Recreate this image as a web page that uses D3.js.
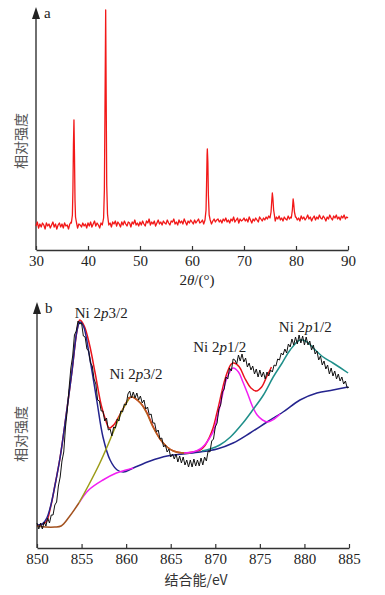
<!DOCTYPE html>
<html>
<head>
<meta charset="utf-8">
<script src="https://cdn.jsdelivr.net/npm/d3@7"></script>
<style>
  body { margin: 0; background: #fff; }
  svg { display: block; }
</style>
</head>
<body>
<div id="chart"></div>
<script>
// ---------- panel a : XRD ----------
const xrdStart = 30, xrdStep = 0.25;
const xrdBackground = [
  24, 28, 22, 26, 23, 27, 25, 21, 27, 24, 26, 22, 25, 28, 23, 26, 21, 25, 27, 23,
  26, 22, 27, 24, 25, 21, 26, 28, 23, 26, 24, 27, 22, 26, 25, 23, 27, 24, 26, 22,
  27, 24, 28, 23, 26, 29, 24, 27, 25, 22, 27, 25, 28, 24, 26, 29, 25, 27, 23, 28,
  26, 29, 24, 28, 26, 23, 28, 25, 29, 26, 24, 28, 27, 23, 28, 26, 30, 25, 27, 24,
  28, 25, 29, 26, 24, 29, 27, 31, 25, 28, 26, 29, 24, 27, 30, 26, 28, 25, 29, 27,
  26, 30, 27, 25, 29, 28, 31, 26, 28, 25, 30, 27, 29, 26, 31, 28, 25, 29, 27, 30,
  28, 26, 30, 27, 29, 31, 27, 28, 30, 26, 29, 27, 31, 28, 30, 26, 29, 31, 28, 30,
  31, 28, 30, 27, 31, 29, 32, 28, 30, 27, 31, 29, 33, 28, 30, 32, 27, 31, 29, 30,
  32, 29, 31, 28, 33, 30, 27, 31, 29, 32, 30, 28, 33, 31, 29, 32, 30, 33, 31, 34,
  32, 30, 33, 31, 29, 33, 31, 34, 30, 32, 29, 33, 31, 30, 34, 31, 33, 30, 32, 31,
  33, 30, 32, 29, 34, 31, 33, 30, 32, 35, 31, 33, 29, 32, 34, 30, 33, 31, 35, 32,
  31, 34, 32, 29, 33, 31, 35, 32, 30, 34, 32, 35, 31, 33, 30, 34, 32, 35, 31, 33,
  32
];
const xrdPeaks = [
  [[36.8, 27], [37.0, 35], [37.1, 60], [37.2, 105], [37.3, 130], [37.4, 95], [37.5, 50], [37.6, 33], [37.8, 27]],
  [[43.0, 32], [43.15, 60], [43.25, 130], [43.4, 240], [43.5, 150], [43.6, 65], [43.75, 36], [43.9, 29]],
  [[62.5, 30], [62.7, 40], [62.8, 65], [62.9, 95], [62.95, 101], [63.05, 88], [63.15, 55], [63.3, 35], [63.5, 30]],
  [[75.0, 32], [75.2, 38], [75.35, 50], [75.45, 57], [75.55, 52], [75.7, 40], [75.9, 33]],
  [[79.1, 32], [79.3, 40], [79.45, 51], [79.55, 47], [79.7, 38], [79.9, 33]]
];
const xrdTicks = [30, 40, 50, 60, 70, 80, 90];

// ---------- panel b : XPS Ni 2p ----------
const xpsStart = 850, xpsStep = 0.2;
const xpsRaw = [
  25, 19, 25, 19, 26, 22, 30, 25, 33, 33, 43, 46, 62, 71, 87, 96, 121, 138, 160, 180,
  192, 213, 217, 227, 224, 225, 212, 211, 199, 197, 185, 182, 169, 164, 148, 147, 137, 137, 127, 130,
  118, 119, 112, 121, 120, 129, 127, 137, 136, 144, 143, 154, 157, 150, 156, 150, 155, 148, 152, 145,
  148, 139, 141, 133, 134, 125, 125, 116, 118, 109, 110, 101, 103, 96, 99, 91, 94, 89, 94, 86,
  92, 85, 91, 83, 88, 81, 88, 81, 89, 82, 88, 82, 90, 83, 91, 87, 97, 96, 107, 109,
  121, 125, 139, 143, 156, 159, 171, 169, 180, 177, 189, 188, 184, 193, 187, 194, 186, 190, 181, 185,
  178, 182, 174, 179, 171, 178, 171, 176, 169, 176, 172, 178, 176, 183, 182, 189, 188, 195, 193, 199,
  195, 204, 201, 209, 203, 211, 204, 213, 205, 212, 203, 211, 203, 207, 198, 203, 194, 197, 188, 192,
  183, 187, 179, 183, 174, 180, 172, 177, 169, 174, 167, 171, 164, 167, 160, 161
];
const fitEnvelope = [
  [850, 22], [851, 26], [851.5, 40], [852, 62], [852.6, 91], [853.3, 135], [853.9, 175], [854.5, 218],
  [854.8, 228], [855.3, 222], [855.9, 203], [856.5, 176], [857.2, 143], [857.7, 128], [858.1, 120],
  [858.6, 123], [859.1, 130], [859.7, 140], [860.2, 148], [860.6, 151], [861.6, 145], [862.3, 136],
  [863, 122], [863.8, 109], [864.6, 101], [865.3, 97], [866.4, 95], [867.5, 96], [868.3, 98],
  [868.8, 102], [869.3, 110], [869.75, 120], [870.1, 132], [870.4, 143], [870.7, 155], [871, 166],
  [871.4, 177], [871.8, 184], [872.1, 185], [872.7, 181], [873.3, 170], [874, 160], [874.6, 157],
  [875.2, 161], [875.8, 172], [876.3, 181]
];
const fitMain2p3 = [
  [850, 23], [850.6, 24], [851.1, 30], [851.5, 41], [852, 62], [852.6, 91], [853.3, 135], [853.9, 175],
  [854.5, 218], [854.8, 226], [855.2, 222], [855.9, 191], [856.7, 148], [857.4, 111], [858.2, 88],
  [859, 78], [859.7, 76], [860.8, 80], [862.7, 87], [864.6, 92], [866.4, 94], [868.3, 96], [870.2, 99],
  [872, 105], [873.9, 115], [875.8, 126], [877.6, 136], [879.5, 148], [881.4, 155], [883.2, 158], [884.9, 161]
];
const fitBaseLow = [[850, 22], [851, 21], [852, 21], [852.7, 22], [853.6, 31], [854.7, 45]];
const fitBaseMid = [[854.7, 45], [855.8, 58], [857.4, 68], [858.9, 75], [860, 78], [860.8, 80]];
const fitSatRise = [[854.7, 45], [855.8, 63], [857, 84], [858, 104], [858.6, 117], [859.1, 128], [859.7, 140], [860.3, 149]];
const fitSatFall = [
  [860.2, 150], [860.7, 151], [861.6, 145], [862.3, 135], [863, 121], [863.8, 109],
  [864.6, 101], [865.3, 97], [866.4, 95], [867.2, 95]
];
const fitMain2p1 = [
  [866.5, 95], [867.5, 96], [868.3, 99], [868.8, 103], [869.3, 109], [869.85, 118], [870.2, 130],
  [870.5, 141], [870.8, 153], [871.15, 166], [871.5, 174], [872, 180], [872.6, 176], [873.1, 166],
  [873.6, 155], [874.2, 141], [874.7, 133], [875.3, 128], [875.9, 126], [876.6, 129], [877.3, 134]
];
const fitSat2p1 = [
  [868.5, 97], [869.4, 99], [870.5, 103], [871.7, 111], [873.1, 125], [874.2, 138], [875.4, 153],
  [876.5, 171], [877.5, 185], [878.4, 198], [879.5, 208], [880.3, 206], [881, 200], [882.1, 191],
  [883.2, 185], [884.9, 175]
];
const xpsTicks = [850, 855, 860, 865, 870, 875, 880, 885];
const peakLabels = [["3/2", 857.2, 230], ["3/2", 861.1, 169], ["1/2", 870.5, 196], ["1/2", 880.1, 216]];

const width = 385, height = 595;
const serif = "'Liberation Serif', 'Times New Roman', 'DejaVu Serif', serif";
const cjk = "'Noto Sans CJK SC', sans-serif";
const axisColor = "#333";

const svg = d3.select("#chart")
    .append("svg")
    .attr("width", width)
    .attr("height", height);

svg.append("rect").attr("width", width).attr("height", height).attr("fill", "#fff");

function drawFrame(x, y, tickValues, letter, yLabelY) {
    const g = svg.append("g");
    const x0 = x.range()[0];
    const yBottom = y.range()[0], yTop = y.range()[1];

    g.append("g")
        .attr("transform", `translate(0,${yBottom})`)
        .attr("font-family", serif)
        .call(d3.axisBottom(x).tickValues(tickValues).tickFormat(d3.format("d"))
            .tickSizeInner(-4).tickSizeOuter(0).tickPadding(5))
        .attr("font-family", serif)
        .attr("font-size", 15)
        .call(a => a.select(".domain").attr("stroke", axisColor).attr("stroke-width", 1.4))
        .call(a => a.selectAll(".tick line").attr("stroke", axisColor).attr("stroke-width", 1.2))
        .call(a => a.selectAll(".tick text").attr("fill", "#222"));

    // vertical axis with arrow head
    g.append("line")
        .attr("x1", x0).attr("x2", x0)
        .attr("y1", yBottom).attr("y2", yTop + 8)
        .attr("stroke", axisColor).attr("stroke-width", 1.4);
    g.append("path")
        .attr("d", `M${x0},${yTop - 3}L${x0 - 4},${yTop + 9}L${x0 + 4},${yTop + 9}Z`)
        .attr("fill", "#222");

    g.append("text")
        .attr("x", x0 + 8).attr("y", yTop + 8)
        .attr("fill", "#222")
        .attr("font-family", serif)
        .attr("font-size", 15)
        .text(letter);

    g.append("text")
        .attr("transform", `translate(26,${yLabelY}) rotate(-90)`)
        .attr("text-anchor", "middle")
        .attr("fill", "#555")
        .attr("font-family", cjk)
        .attr("font-size", 14)
        .text("相对强度");
}

// ---------- panel a ----------
const xA = d3.scaleLinear().domain([30, 90]).range([36, 348]);
const yA = d3.scaleLinear().domain([0, 240]).range([250, 10]);

drawFrame(xA, yA, xrdTicks, "a", 141);

const xrdPoints = xrdBackground
    .map((v, i) => [xrdStart + i * xrdStep, v])
    .filter(([t]) => !xrdPeaks.some(p => t >= p[0][0] && t <= p[p.length - 1][0]))
    .concat(xrdPeaks.flat())
    .sort((a, b) => a[0] - b[0]);

svg.append("path")
    .datum(xrdPoints)
    .attr("fill", "none")
    .attr("stroke", "#f21818")
    .attr("stroke-width", 1.3)
    .attr("stroke-linejoin", "round")
    .attr("d", d3.line().x(d => xA(d[0])).y(d => yA(d[1])));

const xLabelA = svg.append("text")
    .attr("x", 197).attr("y", 285)
    .attr("text-anchor", "middle")
    .attr("fill", "#222")
    .attr("font-family", serif)
    .attr("font-size", 15);
xLabelA.append("tspan").text("2");
xLabelA.append("tspan").attr("font-style", "italic").text("θ");
xLabelA.append("tspan").text("/(°)");

// ---------- panel b ----------
const xB = d3.scaleLinear().domain([850, 885]).range([37, 349]);
const yB = d3.scaleLinear().domain([0, 243]).range([548, 305]);

drawFrame(xB, yB, xpsTicks, "b", 434);

const smooth = d3.line().x(d => xB(d[0])).y(d => yB(d[1])).curve(d3.curveCatmullRom);

const fits = [
    [fitEnvelope, "#e8141c"],
    [fitMain2p3, "#24248e"],
    [fitBaseMid, "#f21ff2"],
    [fitBaseLow, "#a3521f"],
    [fitSatRise, "#9c9c18"],
    [fitSatFall, "#b4621e"],
    [fitMain2p1, "#f21ff2"],
    [fitSat2p1, "#1f8f8a"]
];

svg.selectAll(".fit")
    .data(fits)
    .enter()
    .append("path")
    .attr("class", "fit")
    .attr("fill", "none")
    .attr("stroke", d => d[1])
    .attr("stroke-width", 1.5)
    .attr("d", d => smooth(d[0]));

svg.append("path")
    .datum(xpsRaw.map((v, i) => [xpsStart + i * xpsStep, v]))
    .attr("fill", "none")
    .attr("stroke", "#111")
    .attr("stroke-width", 1)
    .attr("stroke-linejoin", "round")
    .attr("d", d3.line().x(d => xB(d[0])).y(d => yB(d[1])));

const labels = svg.selectAll(".peak-label")
    .data(peakLabels)
    .enter()
    .append("text")
    .attr("class", "peak-label")
    .attr("x", d => xB(d[1]))
    .attr("y", d => yB(d[2]))
    .attr("text-anchor", "middle")
    .attr("fill", "#222")
    .attr("font-family", serif)
    .attr("font-size", 15);
labels.append("tspan").text("Ni 2");
labels.append("tspan").attr("font-style", "italic").text("p");
labels.append("tspan").text(d => d[0]);

svg.append("text")
    .attr("x", 196).attr("y", 585)
    .attr("text-anchor", "middle")
    .attr("fill", "#333")
    .attr("font-family", cjk)
    .attr("font-size", 14)
    .text("结合能/eV");
</script>
</body>
</html>
